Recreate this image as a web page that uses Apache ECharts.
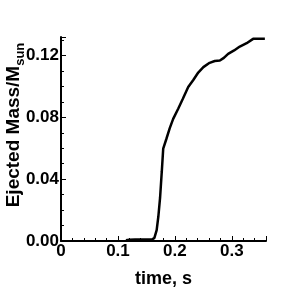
<!DOCTYPE html>
<html><head><meta charset="utf-8">
<script src="https://cdn.jsdelivr.net/npm/echarts@6/dist/echarts.min.js"></script>
<style>html,body{margin:0;padding:0;background:#fff}#c{width:303px;height:303px}</style>
</head><body><div id="c"></div>
<script>
var time = [0.114,0.12,0.13,0.14,0.15,0.16,0.164,0.168,0.171,0.174,0.177,0.1795,0.185,0.191,0.197,0.2058,0.214,0.2234,0.232,0.241,0.25,0.261,0.27,0.279,0.286,0.2935,0.304,0.314,0.326,0.3374,0.345,0.358];
var mass = [0.0005,0.0008,0.0009,0.0009,0.0009,0.001,0.002,0.007,0.016,0.028,0.045,0.0598,0.066,0.073,0.079,0.0856,0.092,0.0996,0.104,0.109,0.1125,0.1153,0.1165,0.1168,0.1185,0.1211,0.1233,0.1258,0.128,0.1308,0.1308,0.1308];
var xTicks = [0,0.1,0.2,0.3];
var yTicks = [0,0.04,0.08,0.12];
var data = time.map(function(t,i){return [t,mass[i]];});
var font = '"Liberation Sans", Arial, sans-serif';
var chart = echarts.init(document.getElementById('c'));
chart.setOption({
  animation:false,
  grid:{left:61,right:37,top:37,bottom:62,outerBoundsMode:'none',containLabel:false},
  xAxis:{type:'value',min:0,max:0.36,interval:0.1,
    name:'time, s',nameLocation:'middle',nameGap:29,nameMoveOverlap:false,
    nameTextStyle:{fontFamily:font,fontWeight:'bold',fontSize:18,color:'#000'},
    axisLine:{show:true,onZero:false,lineStyle:{color:'#000',width:2}},
    axisTick:{show:true,inside:true,length:5,lineStyle:{color:'#000',width:1}},
    minorTick:{show:true,splitNumber:5,length:3,lineStyle:{color:'#000',width:1}},
    splitLine:{show:false},
    axisLabel:{fontFamily:font,fontWeight:'bold',fontSize:17,color:'#000',margin:2,
      formatter:function(v){return xTicks.indexOf(v)>=0?(v===0?'0':v.toFixed(1)):'';},showMaxLabel:false}
  },
  yAxis:{type:'value',min:0,max:0.132,interval:0.04,
    name:'{a|Ejected Mass/M}{b|sun}',nameLocation:'middle',nameGap:34,nameMoveOverlap:false,
    nameTextStyle:{fontFamily:font,fontWeight:'bold',fontSize:19,color:'#000',padding:[0,0,0,28],
      rich:{a:{fontFamily:font,fontWeight:'bold',fontSize:19,color:'#000',lineHeight:23,verticalAlign:'top'},
            b:{fontFamily:font,fontWeight:'bold',fontSize:13,color:'#000',lineHeight:23,verticalAlign:'bottom',padding:[8,0,0,0]}}},
    axisLine:{show:true,onZero:false,lineStyle:{color:'#000',width:2}},
    axisTick:{show:true,inside:true,length:5,lineStyle:{color:'#000',width:1}},
    minorTick:{show:true,splitNumber:4,length:3,lineStyle:{color:'#000',width:1}},
    splitLine:{show:false},
    axisLabel:{fontFamily:font,fontWeight:'bold',fontSize:17,color:'#000',margin:2,showMaxLabel:false,
      formatter:function(v){return yTicks.indexOf(+v.toFixed(2))>=0?v.toFixed(2):'';}}
  },
  series:[{type:'line',data:data,showSymbol:false,smooth:false,
    lineStyle:{color:'#000',width:2.5}}]
});
</script></body></html>
